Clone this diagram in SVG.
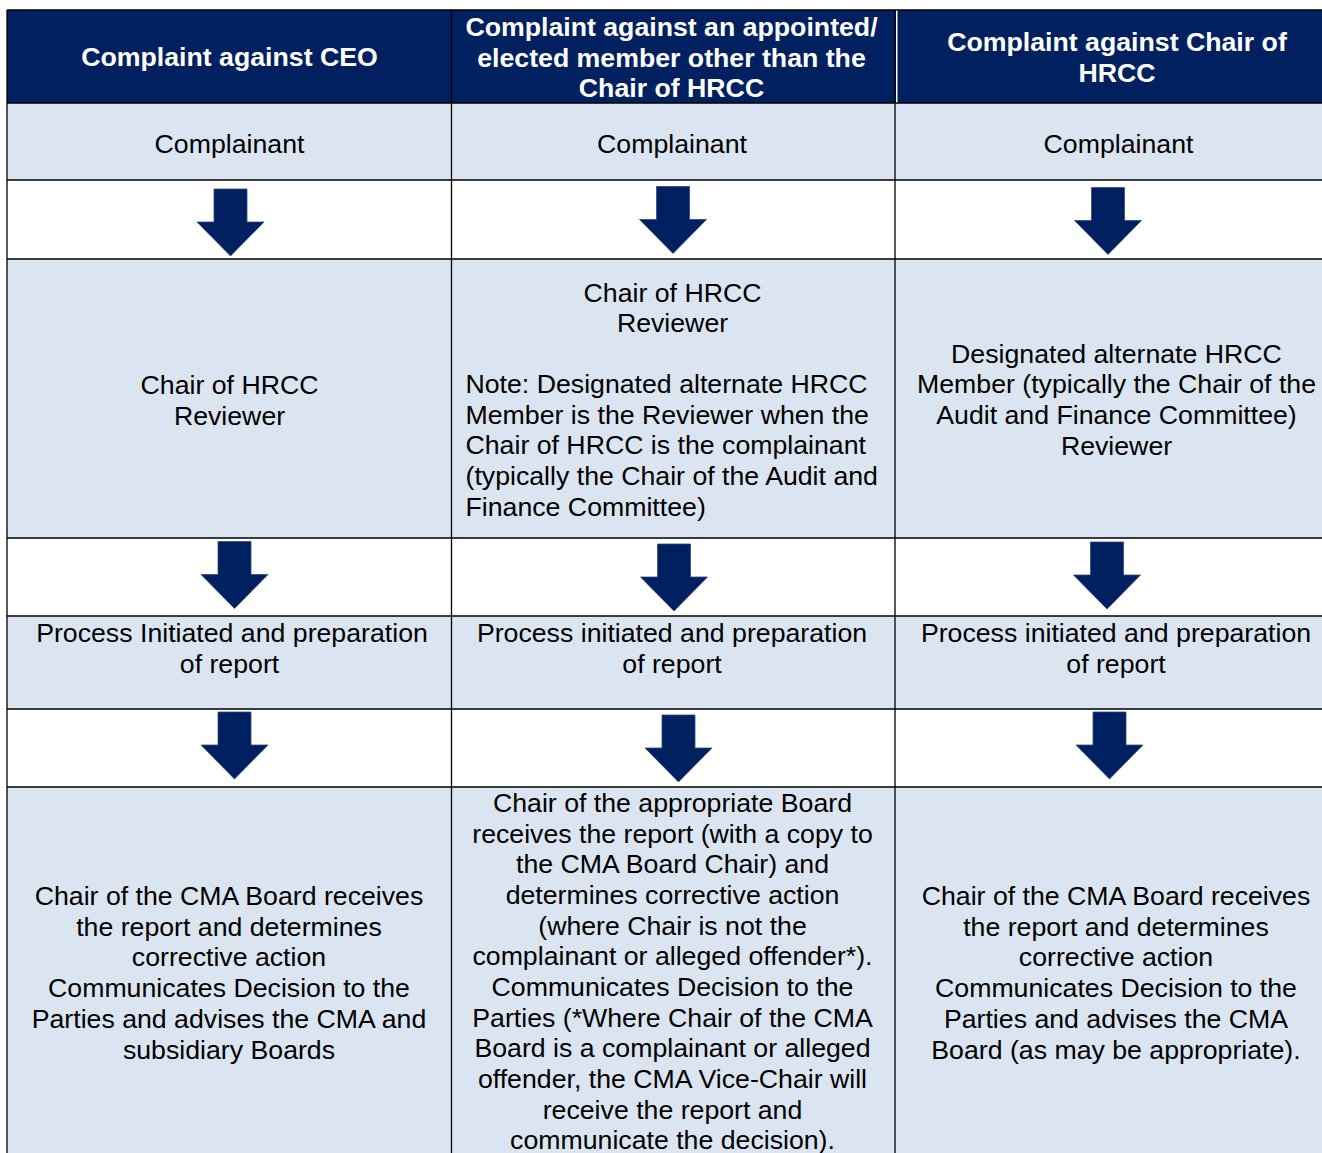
<svg xmlns="http://www.w3.org/2000/svg" width="1322" height="1153" viewBox="0 0 1322 1153">
<style>
.hdr{fill:#002060}
.lt{fill:#DBE5F1}
.wt{fill:#FFFFFF}
.grid{stroke:#000;stroke-width:1.3;fill:none}
text{font-family:"Liberation Sans",Arial,sans-serif;font-size:26.7px;fill:#000}
.h{font-weight:bold;fill:#FFFFFF}
.c{text-anchor:middle}
.arrow{fill:#002060;stroke:#2E4A80;stroke-width:0.8}
</style>
<defs>
<path id="arr" d="M -16.5 -67 H 16.5 V -34 H 33.5 L 0 0 L -33.5 -34 H -16.5 Z"/>
</defs>
<rect x="0" y="0" width="1322" height="1153" fill="#FFFFFF"/>
<g id="backgrounds">
<rect class="hdr" x="7" y="10" width="1333" height="93"/>
<rect class="lt" x="7" y="103" width="1333" height="77"/>
<rect class="wt" x="7" y="180" width="1333" height="79"/>
<rect class="lt" x="7" y="259" width="1333" height="279"/>
<rect class="wt" x="7" y="538" width="1333" height="78"/>
<rect class="lt" x="7" y="616" width="1333" height="93"/>
<rect class="wt" x="7" y="709" width="1333" height="78"/>
<rect class="lt" x="7" y="787" width="1333" height="380"/>
</g>
<g id="grid">
<path class="grid" d="M7 10 H1340 M7 103 H1340 M7 180 H1340 M7 259 H1340 M7 538 H1340 M7 616 H1340 M7 709 H1340 M7 787 H1340 M7 10 V1160 M451.5 10 V1160 M895 10 V1160"/>
<rect x="896" y="10.7" width="1.5" height="91.6" fill="#FFFFFF"/>
</g>
<g id="header-ceo"><text class="h c" x="229.5" y="66">Complaint against CEO</text></g>
<g id="header-member"><text class="h c" x="671.5" y="36">Complaint against an appointed/<tspan x="671.5" dy="30.7">elected member other than the</tspan><tspan x="671.5" dy="30.7">Chair of HRCC</tspan></text></g>
<g id="header-chair"><text class="h c" x="1117" y="51">Complaint against Chair of<tspan x="1117" dy="31">HRCC</tspan></text></g>

<g id="ceo-complainant"><text class="c" x="229.5" y="152.5">Complainant</text></g>
<g id="member-complainant"><text class="c" x="672" y="152.5">Complainant</text></g>
<g id="chair-complainant"><text class="c" x="1118.5" y="152.5">Complainant</text></g>

<g id="ceo-reviewer"><text class="c" x="229.5" y="394">Chair of HRCC<tspan x="229.5" dy="30.7">Reviewer</tspan></text></g>
<g id="member-reviewer"><text class="c" x="672.5" y="301.5">Chair of HRCC<tspan x="672.5" dy="30.7">Reviewer</tspan></text>
<text x="465.5" y="393">Note: Designated alternate HRCC<tspan x="465.5" dy="30.7">Member is the Reviewer when the</tspan><tspan x="465.5" dy="30.7">Chair of HRCC is the complainant</tspan><tspan x="465.5" dy="30.7">(typically the Chair of the Audit and</tspan><tspan x="465.5" dy="30.7">Finance Committee)</tspan></text></g>
<g id="chair-reviewer"><text class="c" x="1116.5" y="362.5">Designated alternate HRCC<tspan x="1116.5" dy="30.7">Member (typically the Chair of the</tspan><tspan x="1116.5" dy="30.7">Audit and Finance Committee)</tspan><tspan x="1116.5" dy="30.7">Reviewer</tspan></text></g>

<g id="ceo-process"><text class="c" x="232" y="642">Process Initiated and preparation<tspan x="229.5" dy="30.7">of report</tspan></text></g>
<g id="member-process"><text class="c" x="672" y="642">Process initiated and preparation<tspan x="672" dy="30.7">of report</tspan></text></g>
<g id="chair-process"><text class="c" x="1116" y="642">Process initiated and preparation<tspan x="1116" dy="30.7">of report</tspan></text></g>

<g id="ceo-decision"><text class="c" x="229" y="905">Chair of the CMA Board receives<tspan x="229" dy="30.7">the report and determines</tspan><tspan x="229" dy="30.7">corrective action</tspan><tspan x="229" dy="30.7">Communicates Decision to the</tspan><tspan x="229" dy="30.7">Parties and advises the CMA and</tspan><tspan x="229" dy="30.7">subsidiary Boards</tspan></text></g>
<g id="member-decision"><text class="c" x="672.5" y="812">Chair of the appropriate Board<tspan x="672.5" dy="30.65">receives the report (with a copy to</tspan><tspan x="672.5" dy="30.65">the CMA Board Chair) and</tspan><tspan x="672.5" dy="30.65">determines corrective action</tspan><tspan x="672.5" dy="30.65">(where Chair is not the</tspan><tspan x="672.5" dy="30.65">complainant or alleged offender*).</tspan><tspan x="672.5" dy="30.65">Communicates Decision to the</tspan><tspan x="672.5" dy="30.65">Parties (*Where Chair of the CMA</tspan><tspan x="672.5" dy="30.65">Board is a complainant or alleged</tspan><tspan x="672.5" dy="30.65">offender, the CMA Vice-Chair will</tspan><tspan x="672.5" dy="30.65">receive the report and</tspan><tspan x="672.5" dy="30.65">communicate the decision).</tspan></text></g>
<g id="chair-decision"><text class="c" x="1116" y="905">Chair of the CMA Board receives<tspan x="1116" dy="30.7">the report and determines</tspan><tspan x="1116" dy="30.7">corrective action</tspan><tspan x="1116" dy="30.7">Communicates Decision to the</tspan><tspan x="1116" dy="30.7">Parties and advises the CMA</tspan><tspan x="1116" dy="30.7">Board (as may be appropriate).</tspan></text></g>

<g id="connectors">
<use href="#arr" class="arrow" transform="translate(230.5,256)"/>
<use href="#arr" class="arrow" transform="translate(673,253.5)"/>
<use href="#arr" class="arrow" transform="translate(1108,254.5)"/>
<use href="#arr" class="arrow" transform="translate(234.5,608.5)"/>
<use href="#arr" class="arrow" transform="translate(674,611)"/>
<use href="#arr" class="arrow" transform="translate(1107,609)"/>
<use href="#arr" class="arrow" transform="translate(234.5,779)"/>
<use href="#arr" class="arrow" transform="translate(678.5,782)"/>
<use href="#arr" class="arrow" transform="translate(1109.5,779)"/>
</g>
</svg>
